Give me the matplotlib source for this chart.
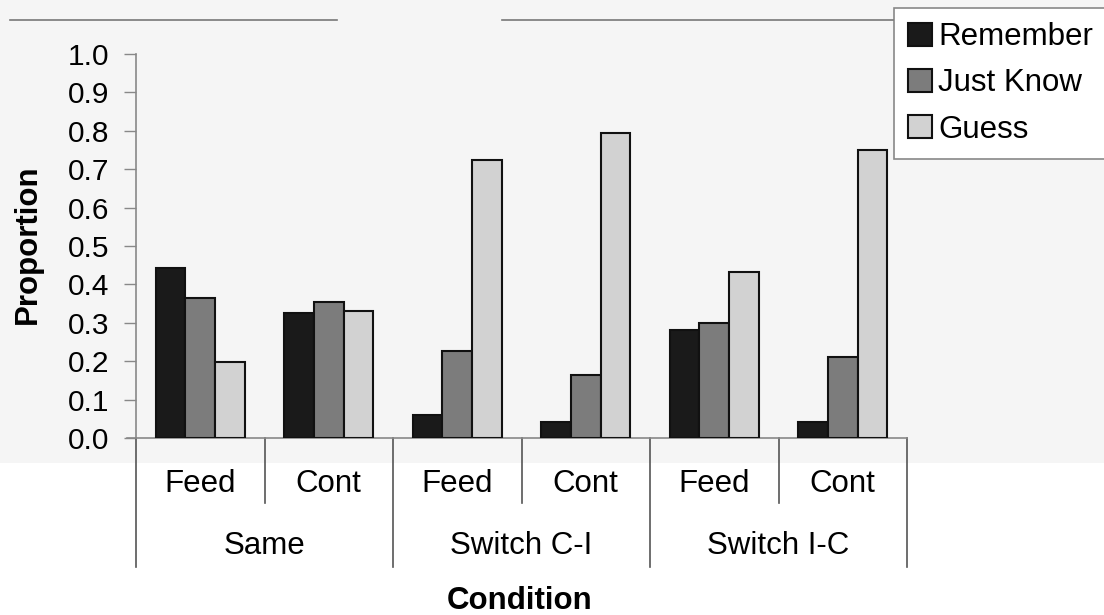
import matplotlib
matplotlib.use("Agg")
import matplotlib.pyplot as plt
from matplotlib.patches import Rectangle
from matplotlib.lines import Line2D
import numpy as np

plt.rcParams['font.family'] = ['Liberation Sans', 'DejaVu Sans']

# ---- data ----
sub_labels = ["Feed", "Cont", "Feed", "Cont", "Feed", "Cont"]
group_labels = ["Same", "Switch C-I", "Switch I-C"]
series_names = ["Remember", "Just Know", "Guess"]
remember = [0.443, 0.325, 0.060, 0.042, 0.281, 0.042]
just_know = [0.365, 0.354, 0.227, 0.164, 0.300, 0.211]
guess = [0.198, 0.331, 0.724, 0.794, 0.432, 0.750]
yticks = [0.0, 0.1, 0.2, 0.3, 0.4, 0.5, 0.6, 0.7, 0.8, 0.9, 1.0]

FS_TICK = 21.5
FS_LAB = 22.5

colors = ["#1a1a1a", "#7c7c7c", "#d2d2d2"]
W, H = 1104, 615
fig = plt.figure(figsize=(W / 100, H / 100), dpi=100)
fig.patch.set_facecolor("white")

# light grey scan band behind the plot
fig.patches.append(Rectangle((0, 1 - 463 / H), 1, 463 / H, transform=fig.transFigure,
                             facecolor="#f5f5f5", edgecolor="none", zorder=-10))
# thin lines at top
for x0, x1 in [(10, 337), (502, 893)]:
    fig.lines.append(Line2D([x0 / W, x1 / W], [1 - 20 / H, 1 - 20 / H],
                            transform=fig.transFigure, color="#777777", lw=1.2))

ax = fig.add_axes([136 / W, 1 - 438 / H, (907 - 136) / W, (438 - 54) / H])
ax.set_facecolor("none")

n = len(sub_labels)
x = np.arange(n)
bw = 0.23
handles = []
for i, (vals, c, name) in enumerate(zip([remember, just_know, guess], colors, series_names)):
    b = ax.bar(x + (i - 1) * bw, vals, width=bw, color=c, edgecolor="#111111",
               linewidth=1.5, label=name, zorder=3)
    handles.append(b)

ax.set_xlim(-0.5, n - 0.5)
ax.set_ylim(0, 1.0)
ax.set_yticks(yticks)
ax.set_yticklabels([f"{v:.1f}" for v in yticks], fontsize=FS_TICK)
ax.tick_params(axis="y", length=9, width=1, color="#888888", pad=10)
ax.tick_params(axis="x", bottom=False, labelbottom=False)
for s in ["top", "right"]:
    ax.spines[s].set_visible(False)
for s in ["left", "bottom"]:
    ax.spines[s].set_color("#888888")
    ax.spines[s].set_linewidth(1.2)
# extend bottom axis a little left
ax.plot([-0.5 - 9 / 128.5, -0.5], [0, 0], color="#888888", lw=1.2, clip_on=False)

# category separators
tr = ax.get_xaxis_transform()
px = 384.0
for k in range(n + 1):
    xb = k - 0.5
    depth = 567 if k % 2 == 0 else 503
    ax.plot([xb, xb], [0, -(depth - 438) / px], transform=tr, color="#555555",
            lw=1.2, clip_on=False)

for k, lab in enumerate(sub_labels):
    ax.text(k, -(484 - 438) / px, lab, transform=tr, ha="center", va="center",
            fontsize=FS_LAB)
for g, lab in enumerate(group_labels):
    ax.text(2 * g + 0.5, -(546 - 438) / px, lab, transform=tr, ha="center", va="center",
            fontsize=FS_LAB)

fig.text(520 / W, 1 - 601 / H, "Condition", ha="center", va="center", fontsize=FS_LAB,
         fontweight="bold")
fig.text(28 / W, 1 - 244 / H, "Proportion", ha="center", va="center", fontsize=FS_LAB,
         fontweight="bold", rotation=90)

leg = ax.legend(handles=handles, labels=series_names, loc="upper left",
                bbox_to_anchor=(894 / W, 1 - 8 / H), bbox_transform=fig.transFigure,
                fontsize=FS_LAB, frameon=True, fancybox=False, borderaxespad=0,
                borderpad=0.45, handlelength=0.75, handleheight=0.75,
                handletextpad=0.22, labelspacing=0.52)
leg.get_frame().set_edgecolor("#888888")
leg.get_frame().set_facecolor("white")
leg.get_frame().set_linewidth(1.2)
leg.get_frame().set_alpha(1)

fig.savefig("out.png", dpi=100)
